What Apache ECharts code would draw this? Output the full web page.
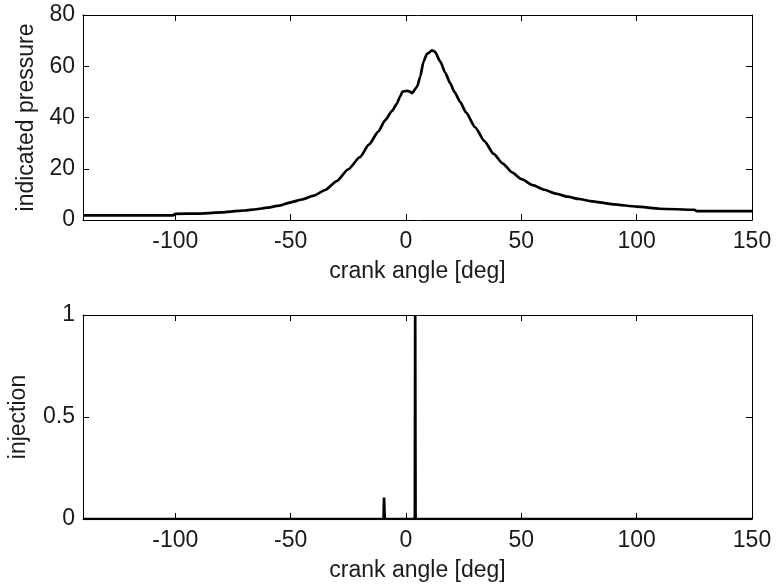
<!DOCTYPE html>
<html>
<head>
<meta charset="utf-8">
<script src="https://cdn.jsdelivr.net/npm/echarts@6/dist/echarts.min.js"></script>
<style>
html,body{margin:0;padding:0;background:#fff;}
#c{width:783px;height:585px;}
</style>
</head>
<body>
<div id="c"></div>
<script>
// crank angle [deg] and indicated pressure (top panel)
const pressureAngle = [-140, -120, -101, -100, -90, -85, -80, -75, -70, -65, -60, -55, -50, -45, -40, -35, -30, -25, -20, -16, -12, -9, -6, -4, -2.5, -1.5, 0.4, 1.5, 2.6, 4.8, 6.2, 7.6, 9.1, 11.3, 12.5, 14.9, 17, 19.2, 21, 23.5, 26, 30, 34, 38, 42, 46, 50, 55, 60, 65, 70, 75, 80, 90, 100, 110, 125, 126, 140, 150];
const pressureValue = [1.8, 1.8, 1.8, 2.4, 2.5, 2.7, 3.0, 3.4, 3.7, 4.2, 4.8, 5.6, 6.9, 8.0, 9.5, 11.7, 15.2, 19.8, 24.5, 29.5, 34.5, 39.0, 42.6, 45.3, 48.3, 50.1, 50.4, 50.2, 49.5, 52.0, 56.0, 61.8, 64.8, 66.2, 65.7, 61.8, 57.5, 53.3, 50.0, 46.1, 42.0, 36.2, 30.8, 25.8, 22.0, 18.6, 16.0, 13.6, 11.8, 10.3, 9.1, 8.2, 7.4, 6.1, 5.2, 4.4, 4.0, 3.5, 3.5, 3.5];

// injection signal (bottom panel)
const injectionAngle = [-140, -9.7, -9.5, -9.2, 3.85, 4.0, 4.15, 150];
const injectionValue = [0, 0, 0.105, 0, 0, 1, 0, 0];

const xTicksMin = -140, xTicksMax = 150;
const pressureYTicks = [0, 20, 40, 60, 80];
const injectionYTicks = [0, 0.5, 1];

const FONT = 'Liberation Sans, Arial, Helvetica, sans-serif';
const FS = 23;
const TXT = '#1a1a1a';

function zip(a, b) { return a.map((v, i) => [v, b[i]]); }

function xAx(grid, pos, withLabel) {
  return {
    type: 'value', gridIndex: grid, position: pos,
    min: xTicksMin, max: xTicksMax,
    name: withLabel ? 'crank angle [deg]' : '',
    nameLocation: 'middle', nameGap: 40,
    nameTextStyle: { fontFamily: FONT, fontSize: FS, color: TXT },
    axisLine: { show: true, onZero: false, lineStyle: { color: '#000', width: 1 } },
    axisTick: { show: true, inside: true, length: 6, lineStyle: { color: '#000', width: 1 } },
    axisLabel: { show: withLabel, showMinLabel: false, fontFamily: FONT, fontSize: FS, color: TXT, margin: 10 },
    splitLine: { show: false }
  };
}
function yAx(grid, pos, withLabel, ticks, name, gap) {
  return {
    type: 'value', gridIndex: grid, position: pos,
    min: ticks[0], max: ticks[ticks.length - 1], interval: ticks[1] - ticks[0],
    name: withLabel ? name : '',
    nameLocation: 'middle', nameGap: gap, nameRotate: 90,
    nameTextStyle: { fontFamily: FONT, fontSize: FS, color: TXT },
    axisLine: { show: true, onZero: false, lineStyle: { color: '#000', width: 1 } },
    axisTick: { show: true, inside: true, length: 6, lineStyle: { color: '#000', width: 1 } },
    axisLabel: { show: withLabel, fontFamily: FONT, fontSize: FS, color: TXT, margin: 8 },
    splitLine: { show: false }
  };
}

const chart = echarts.init(document.getElementById('c'), null, { renderer: 'canvas' });
chart.setOption({
  animation: false,
  backgroundColor: '#fff',
  grid: [
    { left: 83, top: 15, width: 669, height: 205, containLabel: false, outerBoundsMode: 'none' },
    { left: 83, top: 315, width: 669, height: 204, containLabel: false, outerBoundsMode: 'none' }
  ],
  xAxis: [xAx(0, 'bottom', true), xAx(0, 'top', false), xAx(1, 'bottom', true), xAx(1, 'top', false)],
  yAxis: [
    yAx(0, 'left', true, pressureYTicks, 'indicated pressure', 44),
    yAx(0, 'right', false, pressureYTicks, '', 0),
    yAx(1, 'left', true, injectionYTicks, 'injection', 53),
    yAx(1, 'right', false, injectionYTicks, '', 0)
  ],
  series: [
    { type: 'line', xAxisIndex: 0, yAxisIndex: 0, data: zip(pressureAngle, pressureValue),
      showSymbol: false, smooth: 0.2, smoothMonotone: 'x',
      lineStyle: { color: '#000', width: 2.7, join: 'round' }, clip: true },
    { type: 'line', xAxisIndex: 2, yAxisIndex: 2, data: zip(injectionAngle, injectionValue),
      showSymbol: false, lineStyle: { color: '#000', width: 2.7, join: 'miter' }, clip: true }
  ]
});
</script>
</body>
</html>
